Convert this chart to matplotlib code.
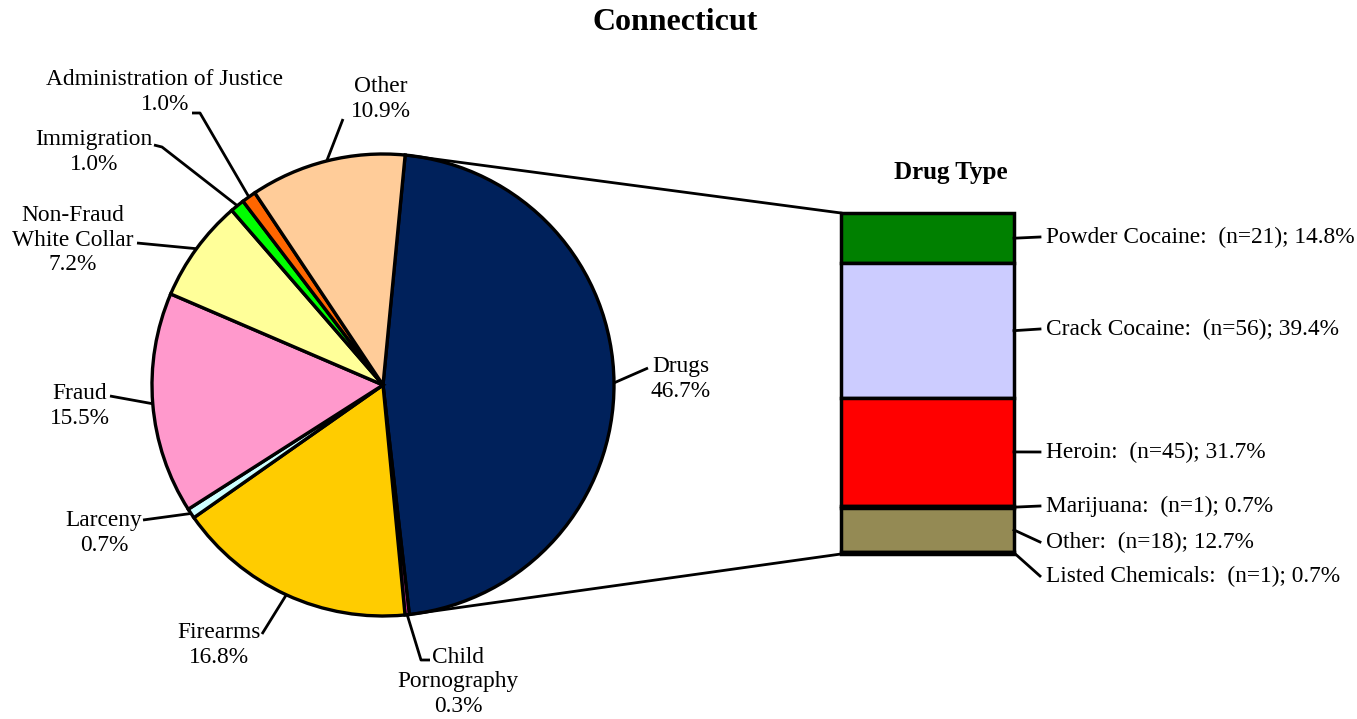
import numpy as np
import matplotlib.pyplot as plt

plt.rcParams["font.family"] = ["Liberation Serif", "DejaVu Serif"]

# offense shares (pie), clockwise from Drugs
offenses = ["Drugs", "Child\nPornography", "Firearms", "Larceny", "Fraud",
            "Non-Fraud\nWhite Collar", "Immigration", "Administration of Justice", "Other"]
shares = [46.7, 0.3, 16.8, 0.7, 15.5, 7.2, 1.0, 1.0, 10.9]
pie_colors = ["#00215B", "#CC3399", "#FFCC00", "#CCFFFF", "#FF99CC",
              "#FFFF99", "#00FF00", "#FF6600", "#FFCC99"]

# drug type breakdown (bar), top to bottom
drugs = ["Powder Cocaine", "Crack Cocaine", "Heroin", "Marijuana", "Other", "Listed Chemicals"]
drug_n = [21, 56, 45, 1, 18, 1]
drug_pct = [14.8, 39.4, 31.7, 0.7, 12.7, 0.7]
bar_colors = ["#008000", "#CCCCFF", "#FF0000", "#222222", "#948A54", "#333333"]

W, H = 1357, 719
def Y(p):
    return H - p

fig = plt.figure(figsize=(W / 100, H / 100), dpi=100)
ax = fig.add_axes([0, 0, 1, 1])

cx, cy, r = 383, Y(385), 231
wedges, _ = ax.pie(shares, colors=pie_colors, startangle=84.5, counterclock=False,
                   center=(cx, cy), radius=r,
                   wedgeprops=dict(edgecolor="black", linewidth=2.4))
ax.set_xlim(0, W)
ax.set_ylim(0, H)
ax.set_aspect("equal")
ax.axis("off")

FS = 16.8

# label layout: text center, leader path (elbow points, pixel coords)
lab_pos = [(681, 379), (458, 682), (219, 645), (104, 533), (80, 406),
           (73, 240), (94, 152), (165, 92), (381, 99)]
lab_path = [[(648, 368)], [(421, 660), (430, 660)], [(262, 634)], [(143, 520)],
            [(110, 396)], [(137, 243)], [(162, 147), (154, 145)],
            [(200, 113), (192, 113)], [(343, 119)]]

for w, name, s, (tx, ty), path in zip(wedges, offenses, shares, lab_pos, lab_path):
    mid = np.deg2rad((w.theta1 + w.theta2) / 2)
    xs = [cx + r * np.cos(mid)] + [p[0] for p in path]
    ys = [cy + r * np.sin(mid)] + [Y(p[1]) for p in path]
    ax.plot(xs, ys, color="black", lw=2, solid_capstyle="butt")
    ax.text(tx, Y(ty), f"{name}\n{s:.1f}%", ha="center", va="center",
            fontsize=FS, linespacing=1.2, multialignment="center")

# stacked drug bar
bx, bw, btop, bh = 927.5, 173, Y(213), 341
heights = np.array(drug_n) / sum(drug_n) * bh
bottoms = btop - np.cumsum(heights)
ax.bar(bx, heights, width=bw, bottom=bottoms, color=bar_colors,
       edgecolor="black", linewidth=2.5)

# connector lines from the Drugs wedge to the bar
dw = wedges[0]
for ang, by in [(dw.theta2, btop), (dw.theta1, btop - bh)]:
    a = np.deg2rad(ang)
    ax.plot([cx + r * np.cos(a), bx - bw / 2], [cy + r * np.sin(a), by],
            color="black", lw=2)

bar_lab_y = [237, 329, 452, 506, 542, 576]
for name, n, p, h, b, ly in zip(drugs, drug_n, drug_pct, heights, bottoms, bar_lab_y):
    ax.plot([bx + bw / 2, 1040], [b + h / 2, Y(ly)], color="black", lw=2)
    ax.text(1046, Y(ly), f"{name}:  (n={n}); {p:.1f}%", ha="left", va="center",
            fontsize=FS)

ax.text(951, Y(172), "Drug Type", ha="center", va="center", fontsize=18, fontweight="bold")
ax.text(675, Y(22), "Connecticut", ha="center", va="center", fontsize=23, fontweight="bold")

fig.savefig("out.png", dpi=100)
